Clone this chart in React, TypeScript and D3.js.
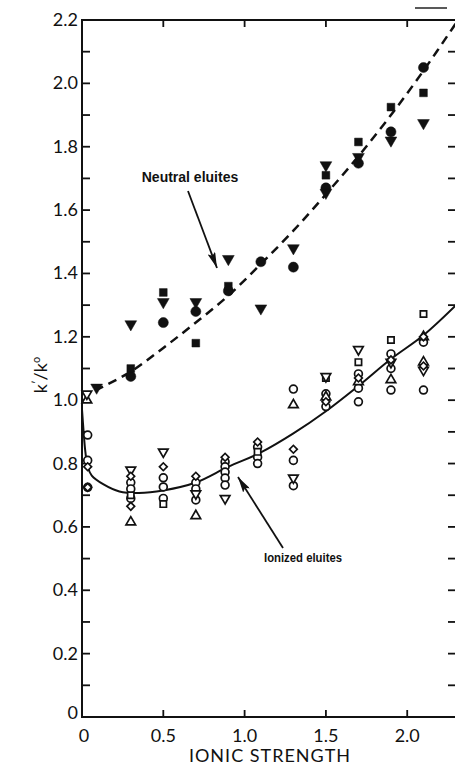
import React, { useEffect, useRef } from 'react';
import * as d3 from 'd3';

// x tick values and labels
const xTicks = [0, 0.5, 1.0, 1.5, 2.0];
const xTickLabels = ['0', '0.5', '1.0', '1.5', '2.0'];
const yMajor = [0.2, 0.4, 0.6, 0.8, 1.0, 1.2, 1.4, 1.6, 1.8, 2.0, 2.2];
const yMajorLabels = ['0.2', '0.4', '0.6', '0.8', '1.0', '1.2', '1.4', '1.6', '1.8', '2.0', '2.2'];
const yMinor = [0.1, 0.2, 0.3, 0.4, 0.5, 0.6, 0.7, 0.8, 0.9, 1.0, 1.1, 1.2, 1.3, 1.4, 1.5, 1.6, 1.7, 1.8, 1.9, 2.0, 2.1];

// neutral eluites (filled markers)
const neutralCircles = [
  [0.3, 1.075], [0.5, 1.245], [0.7, 1.28], [0.9, 1.345], [1.1, 1.437],
  [1.3, 1.42], [1.5, 1.67], [1.7, 1.748], [1.9, 1.847], [2.1, 2.05],
];
const neutralSquares = [
  [0.3, 1.1], [0.5, 1.34], [0.7, 1.18], [0.9, 1.36], [1.5, 1.71],
  [1.7, 1.815], [1.9, 1.925], [2.1, 1.97],
];
const neutralTriangles = [
  [0.09, 1.04], [0.3, 1.24], [0.5, 1.31], [0.7, 1.31], [0.9, 1.446], [1.1, 1.29],
  [1.3, 1.48], [1.5, 1.742], [1.5, 1.655], [1.7, 1.768], [1.9, 1.82], [2.1, 1.875],
];

// ionized eluites (open markers)
const ionCircles = [
  [0.035, 0.89], [0.035, 0.81], [0.035, 0.725],
  [0.3, 0.74], [0.3, 0.72], [0.3, 0.69],
  [0.5, 0.755], [0.5, 0.726], [0.5, 0.69],
  [0.7, 0.74], [0.7, 0.72], [0.7, 0.685],
  [0.88, 0.805], [0.88, 0.79], [0.88, 0.773], [0.88, 0.754], [0.88, 0.732],
  [1.08, 0.852], [1.08, 0.82], [1.08, 0.8],
  [1.3, 1.035], [1.3, 0.81], [1.3, 0.73],
  [1.5, 1.02], [1.5, 0.98],
  [1.7, 1.083], [1.7, 1.038], [1.7, 0.995],
  [1.9, 1.146], [1.9, 1.1], [1.9, 1.032],
  [2.1, 1.183], [2.1, 1.032],
];
const ionSquares = [
  [0.3, 0.7], [0.5, 0.672], [1.08, 0.837], [1.5, 1.07], [1.7, 1.12], [1.9, 1.19], [2.1, 1.272],
];
const ionTriUp = [
  [0.03, 1.0], [0.3, 0.615], [0.7, 0.635], [1.3, 0.985], [1.5, 1.01],
  [1.7, 1.058], [1.9, 1.064], [2.1, 1.2], [2.1, 1.12],
];
const ionTriDown = [
  [0.03, 1.02], [0.3, 0.78], [0.5, 0.837], [0.7, 0.705], [0.88, 0.69],
  [1.3, 0.755], [1.5, 1.075], [1.7, 1.16], [1.9, 1.12], [2.1, 1.095],
];
const ionDiamonds = [
  [0.035, 0.79], [0.035, 0.725], [0.3, 0.76], [0.3, 0.665], [0.5, 0.79], [0.7, 0.76],
  [0.88, 0.82], [1.08, 0.868], [1.3, 0.845], [1.5, 0.995], [1.7, 1.07], [1.9, 1.127],
  [2.1, 1.2], [2.1, 1.108],
];

// curves
const neutralCurve = [
  [0.08, 1.03], [0.3, 1.09], [0.5, 1.165], [0.7, 1.245], [0.9, 1.33], [1.1, 1.43],
  [1.3, 1.535], [1.5, 1.65], [1.7, 1.77], [1.9, 1.9], [2.1, 2.04], [2.3, 2.19],
];
const ionizedCurve = [
  [0.0, 0.97], [0.01, 0.9], [0.02, 0.84], [0.035, 0.79], [0.06, 0.762], [0.13, 0.735],
  [0.23, 0.712], [0.35, 0.707], [0.5, 0.715], [0.7, 0.74], [0.9, 0.79], [1.1, 0.835],
  [1.3, 0.895], [1.5, 0.965], [1.7, 1.045], [1.9, 1.13], [2.1, 1.205], [2.3, 1.3],
];

const App = () => {
  const ref = useRef<SVGSVGElement | null>(null);

  useEffect(() => {
    if (!ref.current) return;
    const svg = d3.select(ref.current);
    svg.selectAll('*').remove();

    const x = d3.scaleLinear().domain([0, 2.3]).range([82, 456]);
    const y = d3.scaleLinear().domain([0, 2.2]).range([717, 20]);
    const tickFont = 'Lato, "DejaVu Sans", sans-serif';

    // scan artifact at the top right
    svg.append('line')
      .attr('x1', 415).attr('x2', 447).attr('y1', 8).attr('y2', 8)
      .attr('stroke', '#222').attr('stroke-width', 1.5);

    // frame
    svg.append('rect')
      .attr('x', x(0)).attr('y', y(2.2))
      .attr('width', x(2.3) - x(0)).attr('height', y(0) - y(2.2))
      .attr('fill', 'none').attr('stroke', '#111').attr('stroke-width', 2);

    // y ticks on both sides
    yMinor.forEach((v) => {
      svg.append('line')
        .attr('x1', x(0)).attr('x2', x(0) + 8).attr('y1', y(v)).attr('y2', y(v))
        .attr('stroke', '#111').attr('stroke-width', 1.8);
      svg.append('line')
        .attr('x1', x(2.3)).attr('x2', x(2.3) - 8).attr('y1', y(v)).attr('y2', y(v))
        .attr('stroke', '#111').attr('stroke-width', 1.8);
    });
    // x ticks top and bottom
    xTicks.slice(1).forEach((v) => {
      svg.append('line')
        .attr('x1', x(v)).attr('x2', x(v)).attr('y1', y(0)).attr('y2', y(0) - 7)
        .attr('stroke', '#111').attr('stroke-width', 1.8);
      svg.append('line')
        .attr('x1', x(v)).attr('x2', x(v)).attr('y1', y(2.2)).attr('y2', y(2.2) + 7)
        .attr('stroke', '#111').attr('stroke-width', 1.8);
    });

    // y labels
    yMajor.forEach((v, i) => {
      svg.append('text')
        .attr('x', x(0) - 4).attr('y', y(v) + 6)
        .attr('text-anchor', 'end')
        .attr('font-family', tickFont).attr('font-size', 18)
        .attr('fill', '#111')
        .text(yMajorLabels[i]);
    });
    svg.append('text')
      .attr('x', x(0) - 4).attr('y', y(0) + 2)
      .attr('text-anchor', 'end')
      .attr('font-family', tickFont).attr('font-size', 18).attr('fill', '#111')
      .text('0');

    // x labels
    xTicks.forEach((v, i) => {
      svg.append('text')
        .attr('x', v === 0 ? x(v) + 2 : x(v)).attr('y', y(0) + 25)
        .attr('text-anchor', 'middle')
        .attr('font-family', tickFont).attr('font-size', 18).attr('fill', '#111')
        .text(xTickLabels[i]);
    });

    // axis titles
    svg.append('text')
      .attr('x', 270).attr('y', 762)
      .attr('text-anchor', 'middle')
      .attr('font-family', tickFont).attr('font-size', 18)
      .attr('letter-spacing', 1).attr('fill', '#111')
      .text('IONIC STRENGTH');

    const yt = svg.append('text')
      .attr('transform', 'translate(47,375) rotate(-90)')
      .attr('text-anchor', 'middle')
      .attr('font-family', tickFont).attr('font-size', 18).attr('fill', '#111');
    yt.append('tspan').text('k');
    yt.append('tspan').attr('dy', -6).attr('font-size', 11).text('\u2032');
    yt.append('tspan').attr('dy', 6).text('/k');
    yt.append('tspan').attr('dy', -7).attr('font-size', 11).text('o');

    // curves
    const line = d3.line<number[]>()
      .x((d) => x(d[0]))
      .y((d) => y(d[1]))
      .curve(d3.curveCatmullRom.alpha(0.5));

    svg.append('path')
      .datum(neutralCurve)
      .attr('fill', 'none').attr('stroke', '#111')
      .attr('stroke-width', 2.5).attr('stroke-dasharray', '9,6')
      .attr('d', line);

    svg.append('path')
      .datum(ionizedCurve)
      .attr('fill', 'none').attr('stroke', '#111')
      .attr('stroke-width', 2)
      .attr('d', line);

    // markers
    const drawMarkers = (
      data: number[][],
      type: d3.SymbolType,
      size: number,
      filled: boolean,
      rotate = 0,
    ) => {
      svg.append('g')
        .selectAll('path')
        .data(data)
        .join('path')
        .attr('transform', (d) => `translate(${x(d[0])},${y(d[1])}) rotate(${rotate})`)
        .attr('d', d3.symbol().type(type).size(size)())
        .attr('fill', filled ? '#111' : '#fff')
        .attr('stroke', '#111')
        .attr('stroke-width', filled ? 0.5 : 1.7);
    };

    drawMarkers(ionCircles, d3.symbolCircle, 48, false);
    drawMarkers(ionSquares, d3.symbolSquare, 40, false);
    drawMarkers(ionTriUp, d3.symbolTriangle, 40, false);
    drawMarkers(ionTriDown, d3.symbolTriangle, 40, false, 180);
    drawMarkers(ionDiamonds, d3.symbolSquare, 30, false, 45);

    drawMarkers(neutralCircles, d3.symbolCircle, 80, true);
    drawMarkers(neutralSquares, d3.symbolSquare, 60, true);
    drawMarkers(neutralTriangles, d3.symbolTriangle, 60, true, 180);

    // annotations
    const defs = svg.append('defs');
    defs.append('marker')
      .attr('id', 'arrowHead')
      .attr('viewBox', '0 0 16 8')
      .attr('refX', 16).attr('refY', 4)
      .attr('markerWidth', 16).attr('markerHeight', 8)
      .attr('markerUnits', 'userSpaceOnUse')
      .attr('orient', 'auto')
      .append('path')
      .attr('d', 'M0,0 L16,4 L0,8 L3,4 Z')
      .attr('fill', '#111');

    svg.append('text')
      .attr('x', 190).attr('y', 182)
      .attr('text-anchor', 'middle')
      .attr('font-family', '"Liberation Sans", Arial, sans-serif')
      .attr('font-weight', 'bold').attr('font-size', 14).attr('fill', '#111')
      .text('Neutral eluites');
    svg.append('line')
      .attr('x1', 188).attr('y1', 191).attr('x2', 217).attr('y2', 268)
      .attr('stroke', '#111').attr('stroke-width', 1.8)
      .attr('marker-end', 'url(#arrowHead)');

    svg.append('text')
      .attr('x', 264).attr('y', 562)
      .attr('font-family', '"Liberation Sans", Arial, sans-serif')
      .attr('font-weight', 'bold').attr('font-size', 13).attr('fill', '#111')
      .attr('textLength', 78).attr('lengthAdjust', 'spacingAndGlyphs')
      .text('Ionized eluites');
    svg.append('line')
      .attr('x1', 283).attr('y1', 548).attr('x2', 238).attr('y2', 477)
      .attr('stroke', '#111').attr('stroke-width', 1.8)
      .attr('marker-end', 'url(#arrowHead)');
  }, []);

  return (
    <svg
      ref={ref}
      width={455}
      height={766}
      style={{ position: 'absolute', left: 0, top: 0, background: '#fff' }}
    />
  );
};

export default App;
